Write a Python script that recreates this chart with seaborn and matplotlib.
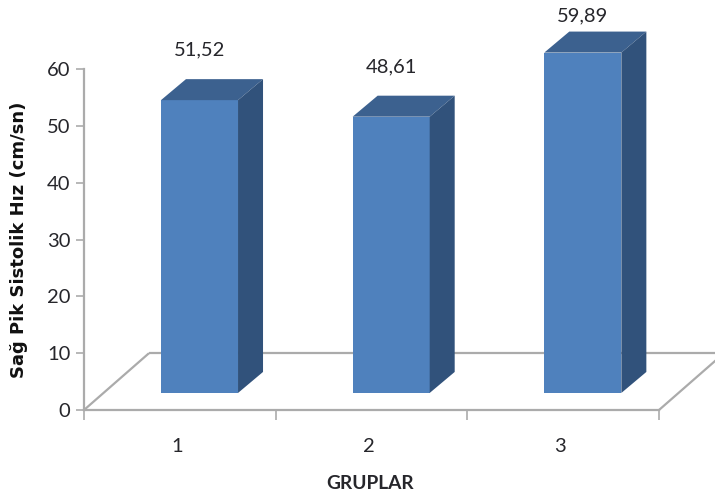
import matplotlib
matplotlib.use("Agg")
import matplotlib.pyplot as plt
from matplotlib.patches import Polygon
import numpy as np
import pandas as pd
import seaborn as sns

# Values per group
groups = ["1", "2", "3"]
peak_velocity = [51.52, 48.61, 59.89]
value_labels = ["51,52", "48,61", "59,89"]
y_ticks = [0, 10, 20, 30, 40, 50, 60]

FRONT = "#4F81BD"
TOP = "#3C618F"
SIDE = "#31527B"
AXIS = "#ABABAB"
INK = "#26262B"

sns.set_style("white")
plt.rcParams["font.family"] = ["Lato", "DejaVu Sans"]

W, H = 715, 498
fig = plt.figure(figsize=(W / 100, H / 100), dpi=100)
ax = fig.add_axes([84 / W, (H - 410) / H, (659 - 84) / W, (410 - 69) / H])

slots = np.arange(len(groups))
frame = pd.DataFrame({"slot": slots + 0.1026, "velocity": peak_velocity})

# Front faces; the bars stand on a floor raised above the zero line
sns.barplot(data=frame, x="slot", y="velocity", native_scale=True, color=FRONT,
            saturation=1, width=0.402, bottom=3.0, linewidth=0, ax=ax, zorder=3)

ax.set_xlim(-0.5, 2.5)
ax.set_ylim(0, 60)

# Floor outline of the oblique projection
floor_dx, floor_dy = 65 / 191.67, 10
line_kw = dict(color=AXIS, lw=1.6, clip_on=False, zorder=1, solid_capstyle="butt")
ax.plot([-0.5 + floor_dx, 2.5 + floor_dx], [floor_dy, floor_dy], **line_kw)
ax.plot([-0.5, -0.5 + floor_dx], [0, floor_dy], **line_kw)
ax.plot([2.5, 2.5 + floor_dx], [0, floor_dy], **line_kw)

# Top and side faces extruded from each bar
dx, dy = 25 / 191.67, 21 / (341 / 60)
offsets = [50, 50, 37]
for patch, text, off in zip(list(ax.patches), value_labels, offsets):
    patch.set_clip_on(False)
    l, b = patch.get_x(), patch.get_y()
    r, t = l + patch.get_width(), b + patch.get_height()
    ax.add_patch(Polygon([(l, t), (r, t), (r + dx, t + dy), (l + dx, t + dy)],
                         closed=True, fc=TOP, ec="none", clip_on=False, zorder=3))
    ax.add_patch(Polygon([(r, b), (r + dx, b + dy), (r + dx, t + dy), (r, t)],
                         closed=True, fc=SIDE, ec="none", clip_on=False, zorder=3))
    ax.annotate(text, ((l + r) / 2, t), xytext=(0, off * 0.72),
                textcoords="offset points", ha="center", va="center",
                fontsize=14.5, color=INK, annotation_clip=False)

# Axes, ticks and labels
for side in ("top", "right"):
    ax.spines[side].set_visible(False)
for side in ("left", "bottom"):
    ax.spines[side].set_color(AXIS)
    ax.spines[side].set_linewidth(1.6)

ax.set_yticks(y_ticks)
ax.tick_params(axis="y", length=5.8, width=1.2, color=AXIS, pad=4,
               labelsize=14.5, labelcolor=INK, left=True)
ax.set_xticks(np.arange(len(groups) + 1) - 0.5)
ax.set_xticklabels([])
ax.tick_params(axis="x", which="major", length=7.2, width=1.2, color=AXIS, bottom=True)
ax.set_xticks(slots - 0.015, labels=groups, minor=True)
ax.tick_params(axis="x", which="minor", length=0, pad=20, labelsize=14.5, labelcolor=INK)

ax.set_xlabel("")
ax.set_ylabel("")
fig.text(370 / W, 1 - 483 / H, "GRUPLAR", ha="center", va="center",
         fontsize=13.8, fontweight="bold", color=INK)
fig.text(19 / W, 1 - 240 / H, "Sağ Pik Sistolik Hız (cm/sn)", rotation=90,
         ha="center", va="center", fontsize=13, fontweight="bold",
         family=["DejaVu Sans"], color="#111111")

fig.savefig("out.png", dpi=100, facecolor="white")
